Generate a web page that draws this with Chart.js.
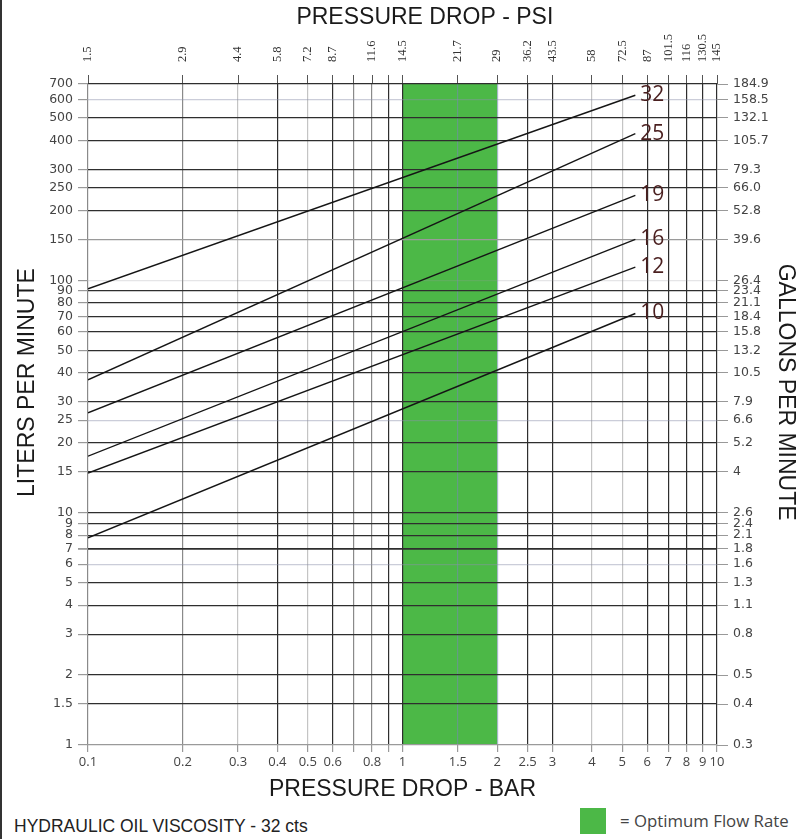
<!DOCTYPE html>
<html>
<head>
<meta charset="utf-8">
<script src="https://cdn.jsdelivr.net/npm/chart.js@4/dist/chart.umd.min.js"></script>
<style>
  html, body { margin: 0; padding: 0; background: #fff; }
  body { width: 804px; height: 839px; position: relative; overflow: hidden; }
  .edge { position: absolute; left: 0; top: 0; width: 2px; height: 839px; background: #333; }
  #wrap { position: absolute; left: 0; top: 0; width: 804px; height: 805px; }
  .viscosity { position: absolute; left: 14px; top: 816px; font: 17.5px 'Liberation Sans', Arial, sans-serif; color: #222; }
  .swatch { position: absolute; left: 580px; top: 808px; width: 26px; height: 26px; background: #4cb847; }
  .optimum { position: absolute; left: 620px; top: 809px; font: 16.8px 'Open Sans', sans-serif; color: #444; }
</style>
</head>
<body>
<div class="edge"></div>
<div id="wrap"><canvas id="flowChart"></canvas></div>
<div class="viscosity">HYDRAULIC OIL VISCOSITY - 32 cts</div>
<div class="swatch"></div>
<div class="optimum">= Optimum Flow Rate</div>

<script>
// pressure drop ticks (bar) with the bar and psi labels that go with them
const barTicks = [0.1, 0.2, 0.3, 0.4, 0.5, 0.6, 0.7, 0.8, 0.9, 1, 1.5, 2, 2.5, 3, 4, 5, 6, 7, 8, 9, 10];
const barLabels = ['0.1', '0.2', '0.3', '0.4', '0.5', '0.6', '', '0.8', '', '1', '1.5', '2', '2.5', '3', '4', '5', '6', '7', '8', '9', '10'];
const psiLabels = ['1.5', '2.9', '4.4', '5.8', '7.2', '8.7', '', '11.6', '', '14.5', '21.7', '29', '36.2', '43.5', '58', '72.5', '87', '101.5', '116', '130.5', '145'];

// flow ticks (liters per minute) and gallons per minute labels
const lpmTicks = [1, 1.5, 2, 3, 4, 5, 6, 7, 8, 9, 10, 15, 20, 25, 30, 40, 50, 60, 70, 80, 90, 100, 150, 200, 250, 300, 400, 500, 600, 700];
const gpmLabels = ['0.3', '0.4', '0.5', '0.8', '1.1', '1.3', '1.6', '1.8', '2.1', '2.4', '2.6', '4', '5.2', '6.6', '7.9', '10.5', '13.2', '15.8', '18.4', '21.1', '23.4', '26.4', '39.6', '52.8', '66.0', '79.3', '105.7', '132.1', '158.5', '184.9'];

// valve sizes and their flow lines: lpm at each end of pressurePoints
const sizes = ['32', '25', '19', '16', '12', '10'];
const pressurePoints = [0.1, 5.5];
const flow32 = [92, 626];
const flow25 = [37.3, 428];
const flow19 = [26.9, 232];
const flow16 = [17.5, 150];
const flow12 = [14.8, 114];
const flow10 = [7.8, 72];

const optimumBar = [1, 2];

// grid shading (styles only)
const lightX = [0.3, 0.5, 4, 5];
const midX = [0.1, 0.2, 0.7, 0.8];
const blueX = [1.5, 2];
const lightY = [6, 25, 100, 600];
const midY = [1, 150];

window.addEventListener('DOMContentLoaded', (event) => {
    load_chart()
})

function gridX(v) {
    if (blueX.includes(v)) return 'rgba(120,135,180,0.55)';
    if (lightX.includes(v)) return '#c4c4c4';
    if (midX.includes(v)) return '#8a8a8a';
    return '#2e2e2e';
}

function gridY(v) {
    if (v === 100) return 'rgba(150,150,160,0.25)';
    if (lightY.includes(v)) return 'rgba(140,145,170,0.45)';
    if (midY.includes(v)) return '#9a9a9a';
    return '#2e2e2e';
}

// pad a title with spaces so it sits off-centre like the original
function pad(text, before, after) {
    return ' '.repeat(before) + text + ' '.repeat(after);
}

function load_chart() {
    const flows = [flow32, flow25, flow19, flow16, flow12, flow10];
    const datasets = flows.map((f, i) => ({
        label: sizes[i],
        data: pressurePoints.map((p, j) => ({ x: p, y: f[j] })),
        borderColor: '#151515',
        borderWidth: 1.4,
        pointRadius: 0,
        tension: 0,
        fill: false
    }));

    const optimumBand = {
        id: 'optimumBand',
        beforeDraw(chart) {
            const { ctx, chartArea, scales } = chart;
            const x1 = scales.x.getPixelForValue(optimumBar[0]);
            const x2 = scales.x.getPixelForValue(optimumBar[1]);
            ctx.save();
            ctx.fillStyle = '#4cb847';
            ctx.fillRect(x1, chartArea.top, x2 - x1, chartArea.bottom - chartArea.top);
            ctx.restore();
        }
    };

    const lineLabels = {
        id: 'lineLabels',
        afterDatasetsDraw(chart) {
            const ctx = chart.ctx;
            ctx.save();
            ctx.font = '21px "Open Sans", sans-serif';
            ctx.fillStyle = '#4a1f1f';
            ctx.textBaseline = 'middle';
            ctx.textAlign = 'left';
            chart.data.datasets.forEach((ds, i) => {
                const pts = chart.getDatasetMeta(i).data;
                const last = pts[pts.length - 1];
                ctx.fillText(ds.label, last.x + 5, last.y);
            });
            ctx.restore();
        }
    };

    const titleFont = { family: "'Liberation Sans', Arial, sans-serif", size: 23 };

    const config = {
        type: 'line',
        data: { datasets: datasets },
        options: {
            responsive: true,
            maintainAspectRatio: false,
            animation: false,
            layout: { padding: 0 },
            plugins: { legend: { display: false }, tooltip: { enabled: false } },
            scales: {
                x: {
                    type: 'logarithmic',
                    position: 'bottom',
                    min: 0.1, max: 10,
                    afterBuildTicks: (s) => { s.ticks = barTicks.map(v => ({ value: v })) },
                    afterFit: (s) => { s.height = 60 },
                    border: { display: false },
                    grid: {
                        color: (c) => gridX(c.tick ? c.tick.value : 0),
                        lineWidth: 1.2,
                        tickColor: '#999',
                        tickLength: 7
                    },
                    ticks: {
                        autoSkip: false, maxRotation: 0, padding: 2,
                        color: '#444',
                        font: { family: "'Open Sans', sans-serif", size: 13 },
                        callback: (v, i) => barLabels[i]
                    },
                    title: { display: true, text: 'PRESSURE DROP - BAR', color: '#1a1a1a', font: titleFont, padding: { top: 0, bottom: 2 } }
                },
                xTop: {
                    type: 'logarithmic',
                    position: 'top',
                    min: 0.1, max: 10,
                    afterBuildTicks: (s) => { s.ticks = barTicks.map(v => ({ value: v })) },
                    afterFit: (s) => { s.height = 84 },
                    border: { display: false },
                    grid: { drawOnChartArea: false, color: '#555', tickLength: 9 },
                    ticks: {
                        autoSkip: false, minRotation: 90, maxRotation: 90, padding: 13, labelOffset: 15,
                        color: '#333',
                        font: { family: "'Liberation Serif', serif", size: 12.5 },
                        callback: (v, i) => psiLabels[i]
                    },
                    title: { display: true, text: pad('PRESSURE DROP - PSI', 7, 0), color: '#1a1a1a', font: titleFont, padding: { top: 4, bottom: 0 } }
                },
                y: {
                    type: 'logarithmic',
                    position: 'left',
                    min: 1, max: 700,
                    afterBuildTicks: (s) => { s.ticks = lpmTicks.map(v => ({ value: v })) },
                    afterFit: (s) => { s.width = 88 },
                    border: { display: false },
                    grid: {
                        color: (c) => gridY(c.tick ? c.tick.value : 0),
                        lineWidth: (c) => (c.tick && c.tick.value === 7 ? 1.8 : 1.2),
                        tickColor: '#999',
                        tickLength: 10
                    },
                    ticks: {
                        autoSkip: false, padding: 5,
                        color: '#444',
                        font: { family: "'DejaVu Sans', sans-serif", size: 12.5 },
                        callback: (v, i) => String(lpmTicks[i])
                    },
                    title: { display: true, text: pad('LITERS PER MINUTE', 10, 0), color: '#1a1a1a', font: titleFont, padding: { top: 14, bottom: 0 } }
                },
                yRight: {
                    type: 'logarithmic',
                    position: 'right',
                    min: 1, max: 700,
                    afterBuildTicks: (s) => { s.ticks = lpmTicks.map(v => ({ value: v })) },
                    afterFit: (s) => { s.width = 87 },
                    border: { display: false },
                    grid: { drawOnChartArea: false, color: '#999', tickLength: 11 },
                    ticks: {
                        autoSkip: false, padding: 5,
                        color: '#444',
                        font: { family: "'DejaVu Sans', sans-serif", size: 12.5 },
                        callback: (v, i) => gpmLabels[i]
                    },
                    title: { display: true, text: pad('GALLONS PER MINUTE', 0, 7), color: '#1a1a1a', font: titleFont, padding: { top: 5, bottom: 0 } }
                }
            }
        },
        plugins: [optimumBand, lineLabels]
    };

    var flowChart = new Chart(document.getElementById('flowChart'), config);
}
</script>
</body>
</html>
